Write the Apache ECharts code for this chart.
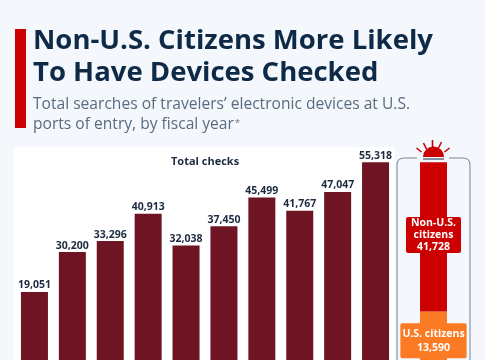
<!DOCTYPE html>
<html><head><meta charset="utf-8">
<style>html,body{margin:0;padding:0;background:#f4f7fb;overflow:hidden}#c{width:485px;height:360px}</style>
<script src="https://cdn.jsdelivr.net/npm/echarts@6/dist/echarts.min.js"></script>
</head><body><div id="c"></div>
<script>
const years = ['2016','2017','2018','2019','2020','2021','2022','2023','2024','2025'];
const totalChecks = [19051,30200,33296,40913,32038,37450,45499,41767,47047,55318];
const usCitizens = [13590];
const nonUsCitizens = [41728];
const splitCategory = ['2025'];
const titleLines = 'Non-U.S. Citizens More Likely\nTo Have Devices Checked';
const subtitleLines = 'Total searches of travelers’ electronic devices at U.S.\nports of entry, by fiscal year';

const fmt = v => v.toLocaleString('en-US');
const font = '"Open Sans"';
const yMax = 60000;
const baseY = 361, pxPerUnit = 0.00359;
const gridTop = baseY - yMax * pxPerUnit;
const gridH = yMax * pxPerUnit;
const labelFont = {fontFamily:font,fontWeight:700,fontSize:10.5};

const chart = echarts.init(document.getElementById('c'), null, {renderer:'canvas'});
const rays = [[-12,-5,-17,-9],[-7,-8,-10,-14],[-1,-10,-1,-17],[5,-9,8,-15],[11,-5,16,-9]];
const sx = 433.5, sy = 157;
const outline = {stroke:'#8a96a5',lineWidth:1.2,fill:'none'};
chart.setOption({
  animation:false,
  backgroundColor:'#f4f7fb',
  graphic:[
    {type:'rect',z:-1,shape:{x:14,y:147,width:381,height:220,r:3},style:{fill:'#ffffff'}},
    {type:'rect',shape:{x:15,y:29,width:11,height:99},style:{fill:'#cc0000'}},
    {type:'text',x:33,y:24.5,style:{text:titleLines,font:'700 27.5px '+font,fill:'#0f2a47',lineHeight:32.5}},
    {type:'text',x:33,y:95,style:{text:subtitleLines,font:'400 15.6px '+font,fill:'#5a6b80',lineHeight:19.5}},
    {type:'text',x:235,y:119,style:{text:'*',font:'400 9px '+font,fill:'#5a6b80'}},
    {type:'text',x:171,y:156,style:{text:'Total checks',font:'700 11px '+font,fill:'#1c2b3f'}},
    {type:'polyline',shape:{points:[[397,360],[397,165]]},style:outline},
    {type:'bezierCurve',shape:{x1:397,y1:165,cpx1:397,cpy1:160,cpx2:399,cpy2:158,x2:404,y2:158},style:outline},
    {type:'polyline',shape:{points:[[404,158],[417,158]]},style:outline},
    {type:'polyline',shape:{points:[[470,360],[470,165]]},style:outline},
    {type:'bezierCurve',shape:{x1:470,y1:165,cpx1:470,cpy1:160,cpx2:468,cpy2:158,x2:463,y2:158},style:outline},
    {type:'polyline',shape:{points:[[463,158],[449,158]]},style:outline},
    {type:'line',shape:{x1:423,y1:159,x2:444,y2:159},style:{stroke:'#3b4a63',lineWidth:1.2}},
    {type:'sector',shape:{cx:sx,cy:sy,r0:0,r:10.5,startAngle:Math.PI,endAngle:2*Math.PI},style:{fill:'#cc0000'}},
    ...rays.map(r=>({type:'line',shape:{x1:sx+r[0],y1:sy+r[1],x2:sx+r[2],y2:sy+r[3]},style:{stroke:'#cc0000',lineWidth:1.6}}))
  ],
  grid:[
    {left:15.5,width:379,top:gridTop,height:gridH},
    {left:420,width:27,top:gridTop,height:gridH}
  ],
  xAxis:[
    {type:'category',gridIndex:0,data:years,axisLine:{show:false},axisTick:{show:false},axisLabel:{show:false}},
    {type:'category',gridIndex:1,data:splitCategory,axisLine:{show:false},axisTick:{show:false},axisLabel:{show:false}}
  ],
  yAxis:[
    {type:'value',gridIndex:0,min:0,max:yMax,show:false},
    {type:'value',gridIndex:1,min:0,max:yMax,show:false}
  ],
  series:[
    {type:'bar',xAxisIndex:0,yAxisIndex:0,data:totalChecks,barWidth:27,
     itemStyle:{color:'#6f1423'},
     label:{show:true,position:'top',distance:1,formatter:p=>fmt(p.value),...labelFont,color:'#1c2b3f'}},
    {type:'bar',xAxisIndex:1,yAxisIndex:1,stack:'s',data:usCitizens,barWidth:27,
     itemStyle:{color:'#fb7a24'},
     label:{show:true,position:'inside',offset:[0,5],formatter:p=>'U.S. citizens\n'+fmt(p.value),
       ...labelFont,color:'#fff',backgroundColor:'#fb7a24',borderRadius:2,padding:[4,2,3,2],lineHeight:14,align:'center'}},
    {type:'bar',xAxisIndex:1,yAxisIndex:1,stack:'s',data:nonUsCitizens,barWidth:27,
     itemStyle:{color:'#cc0000'},
     label:{show:true,position:'inside',offset:[0,-2],formatter:p=>'Non-U.S.\ncitizens\n'+fmt(p.value),
       ...labelFont,color:'#fff',backgroundColor:'#cc0000',borderRadius:2,padding:[0,5,0,5],lineHeight:12,align:'center'}}
  ]
});
</script></body></html>
